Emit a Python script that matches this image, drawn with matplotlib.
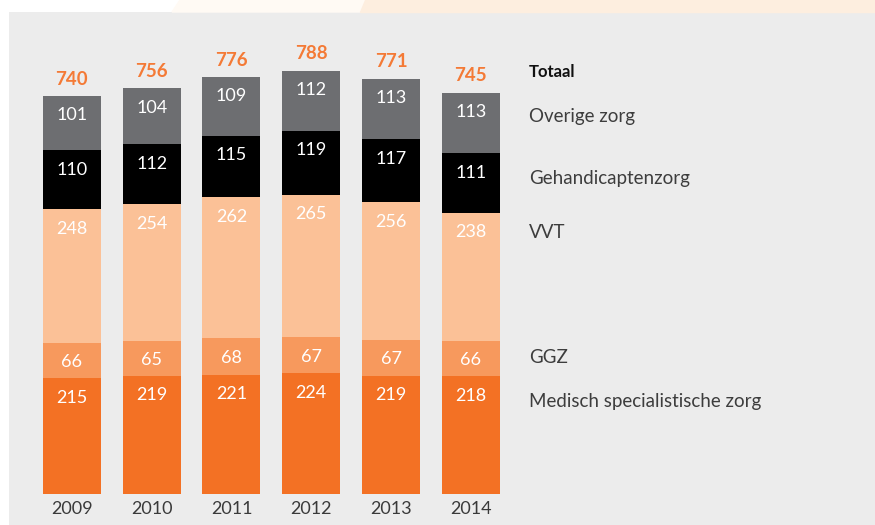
import matplotlib
matplotlib.use("Agg")
import matplotlib.pyplot as plt
from matplotlib.patches import Polygon

years = ["2009", "2010", "2011", "2012", "2013", "2014"]
medisch = [215, 219, 221, 224, 219, 218]
ggz = [66, 65, 68, 67, 67, 66]
vvt = [248, 254, 262, 265, 256, 238]
gehandicapten = [110, 112, 115, 119, 117, 111]
overige = [101, 104, 109, 112, 113, 113]
totaal = [740, 756, 776, 788, 771, 745]

series = [medisch, ggz, vvt, gehandicapten, overige]
colors = ["#f37124", "#f7995d", "#fbc197", "#000000", "#6d6e71"]

legend_names = ["Totaal", "Overige zorg", "Gehandicaptenzorg", "VVT", "GGZ",
                "Medisch specialistische zorg"]
legend_y = [784, 702, 587, 486, 254, 172]

plt.rcParams['font.family'] = ['Lato', 'DejaVu Sans']

W, H = 875, 525
fig = plt.figure(figsize=(W / 100, H / 100), dpi=100)
fig.patch.set_facecolor("white")

# faint decoration in the white top strip
fig.patches.append(Polygon([[180 / W, 1], [365 / W, 1], [360 / W, 1 - 12 / H], [172 / W, 1 - 12 / H]],
                           closed=True, transform=fig.transFigure, color="#fffaf4", zorder=0))
fig.patches.append(Polygon([[365 / W, 1], [1, 1], [1, 1 - 12 / H], [360 / W, 1 - 12 / H]],
                           closed=True, transform=fig.transFigure, color="#fdeedf", zorder=0))

bg = fig.add_axes([9 / W, 0, 1 - 9 / W, 513 / H])
bg.set_facecolor("#ececec")
bg.set_xticks([])
bg.set_yticks([])
for s in bg.spines.values():
    s.set_visible(False)

base_px = 31.3
ax = fig.add_axes([0, base_px / H, 1, 1 - base_px / H])
ax.patch.set_alpha(0)
ax.set_xlim(-0.9, (W - 72) / 79.8)
ax.set_ylim(0, (H - base_px) / 0.5377)
for s in ax.spines.values():
    s.set_visible(False)

x = list(range(len(years)))
bottom = [0] * len(years)
for vals, c in zip(series, colors):
    ax.bar(x, vals, width=0.727, bottom=bottom, color=c, linewidth=0)
    for i, v in enumerate(vals):
        top = bottom[i] + v
        ax.annotate(str(v), (x[i], top), xytext=(0, -14), textcoords="offset points",
                    ha="center", va="center", color="white", fontsize=13)
    bottom = [b + v for b, v in zip(bottom, vals)]

for i, t in enumerate(totaal):
    ax.annotate(str(t), (x[i], bottom[i]), xytext=(0, 12), textcoords="offset points",
                ha="center", va="center", color="#f47a36", fontsize=13.5, fontweight="bold")

lx = 5.73
for name, ly in zip(legend_names, legend_y):
    if name == "Totaal":
        ax.text(lx, ly, name, ha="left", va="center", fontsize=12, fontweight="bold", color="#111111")
    else:
        ax.text(lx, ly, name, ha="left", va="center", fontsize=13.5, color="#3d3d3d")

ax.set_xticks(x)
ax.set_xticklabels(years, fontsize=13, color="#3a3a3a")
ax.tick_params(axis="x", length=0, pad=5)
ax.set_yticks([])

fig.savefig("out.png", dpi=100)
